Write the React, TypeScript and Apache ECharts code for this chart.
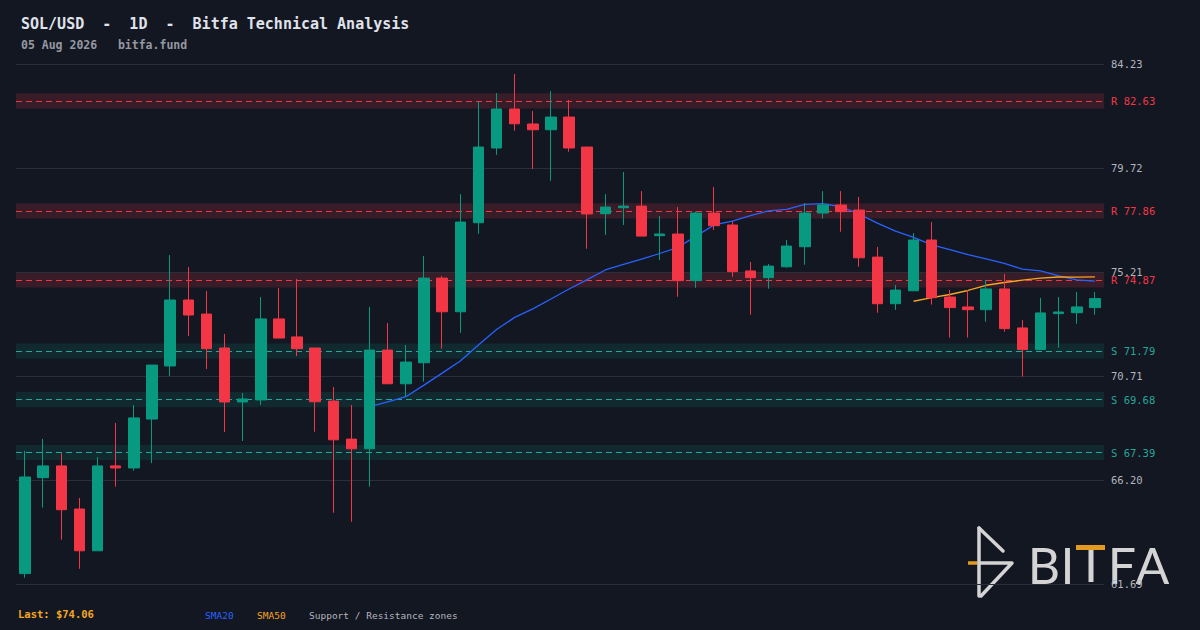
import React, { useEffect, useRef } from "react";
import * as echarts from "echarts";

// ---------- data ----------
const dates = [
  "Jun 07", "Jun 08", "Jun 09", "Jun 10", "Jun 11", "Jun 12", "Jun 13", "Jun 14", "Jun 15", "Jun 16",
  "Jun 17", "Jun 18", "Jun 19", "Jun 20", "Jun 21", "Jun 22", "Jun 23", "Jun 24", "Jun 25", "Jun 26",
  "Jun 27", "Jun 28", "Jun 29", "Jun 30", "Jul 01", "Jul 02", "Jul 03", "Jul 04", "Jul 05", "Jul 06",
  "Jul 07", "Jul 08", "Jul 09", "Jul 10", "Jul 11", "Jul 12", "Jul 13", "Jul 14", "Jul 15", "Jul 16",
  "Jul 17", "Jul 18", "Jul 19", "Jul 20", "Jul 21", "Jul 22", "Jul 23", "Jul 24", "Jul 25", "Jul 26",
  "Jul 27", "Jul 28", "Jul 29", "Jul 30", "Jul 31", "Aug 01", "Aug 02", "Aug 03", "Aug 04", "Aug 05",
];

const opens = [
  62.14, 66.30, 66.81, 64.94, 63.13, 66.81, 66.72, 68.84, 71.14, 74.00,
  73.39, 71.92, 69.58, 69.67, 73.18, 72.40, 71.92, 69.62, 67.97, 67.55,
  71.83, 70.37, 71.28, 74.95, 73.49, 77.35, 80.59, 82.28, 81.63, 81.38,
  81.93, 80.63, 77.74, 78.00, 78.07, 76.79, 76.86, 74.84, 77.77, 77.25,
  75.26, 74.97, 75.44, 76.31, 77.77, 78.12, 77.90, 75.86, 73.84, 74.40,
  76.60, 74.13, 73.70, 73.58, 74.48, 72.79, 71.85, 73.41, 73.45, 73.67,
];

const closes = [
  66.33, 66.81, 64.91, 63.13, 66.81, 66.72, 68.89, 71.18, 74.00, 73.35,
  71.89, 69.58, 69.71, 73.18, 72.35, 71.89, 69.59, 67.94, 67.55, 71.83,
  70.37, 71.31, 74.95, 73.49, 77.38, 80.63, 82.28, 81.64, 81.38, 81.93,
  80.59, 77.73, 78.03, 78.07, 76.77, 76.86, 74.84, 77.77, 77.22, 75.23,
  74.97, 75.47, 76.34, 77.77, 78.12, 77.83, 75.83, 73.84, 74.43, 76.60,
  74.10, 73.67, 73.58, 74.48, 72.76, 71.85, 73.44, 73.48, 73.70, 74.06,
];

const lows = [
  61.96, 65.00, 63.61, 62.35, 63.13, 65.91, 66.60, 66.93, 70.71, 72.44,
  71.01, 68.28, 67.89, 69.45, 72.35, 71.57, 68.29, 64.78, 64.39, 65.91,
  70.37, 69.81, 70.46, 71.89, 72.58, 76.87, 80.29, 81.34, 79.68, 79.17,
  80.43, 76.22, 76.82, 77.25, 76.77, 75.73, 74.14, 74.53, 77.03, 75.01,
  73.36, 74.49, 75.40, 75.53, 77.53, 76.96, 75.44, 73.45, 73.57, 74.40,
  73.80, 72.37, 72.37, 73.06, 72.63, 70.68, 71.85, 71.93, 72.97, 73.36,
];

const highs = [
  67.46, 67.98, 67.36, 65.42, 67.19, 68.67, 69.45, 71.18, 75.95, 75.43,
  74.39, 72.53, 69.97, 74.13, 74.52, 74.91, 71.92, 70.23, 69.45, 73.70,
  73.00, 72.05, 75.91, 75.04, 78.59, 82.58, 82.97, 83.80, 82.19, 83.06,
  82.67, 80.65, 78.59, 79.55, 78.72, 77.64, 78.03, 77.83, 78.90, 77.42,
  75.65, 75.56, 76.60, 78.20, 78.72, 78.72, 78.47, 76.30, 74.65, 76.90,
  77.38, 74.43, 74.43, 74.87, 75.13, 73.13, 74.09, 74.13, 74.35, 74.35,
];

const yTickLabels = ["61.69", "66.20", "70.71", "75.21", "79.72", "84.23"];

const zoneLevels = [82.63, 77.86, 74.87, 71.79, 69.68, 67.39];
const zoneKinds = ["R", "R", "R", "S", "S", "S"];

const lastPrice = 74.06;

// ---------- styling ----------
const BG = "#131722";
const UP = "#089981";
const DOWN = "#f23645";
const SUPPORT_LINE = "#26a69a";
const GRID = "#2a2e39";
const AXIS_TEXT = "#b2b5be";
const SMA20_COLOR = "#2962ff";
const SMA50_COLOR = "#f5a623";
const MONO = "'DejaVu Sans Mono', monospace";
const ZONE_HALF = 0.33;

function movingAverage(values: number[], period: number): (number | string)[] {
  const out: (number | string)[] = [];
  for (let i = 0; i < values.length; i++) {
    if (i < period - 1) {
      out.push("-");
      continue;
    }
    let s = 0;
    for (let j = i - period + 1; j <= i; j++) s += values[j];
    out.push(+(s / period).toFixed(4));
  }
  return out;
}

export default function App() {
  const ref = useRef<HTMLDivElement | null>(null);

  useEffect(() => {
    if (!ref.current) return;
    const chart = echarts.init(ref.current, null, { renderer: "svg" });

    const candleData = opens.map((o, i) => [o, closes[i], lows[i], highs[i]]);
    const sma20 = movingAverage(closes, 20);
    const sma50 = movingAverage(closes, 50);

    const tickValues = yTickLabels.map((t) => Number(t));

    const gridLines = yTickLabels.map((t) => ({
      yAxis: Number(t),
      lineStyle: { color: GRID, type: "solid", width: 1 },
      label: {
        show: true,
        position: "end",
        distance: 7,
        formatter: t,
        color: AXIS_TEXT,
        fontFamily: MONO,
        fontSize: 10.5,
      },
    }));

    const zoneLines = zoneLevels.map((v, i) => {
      const isR = zoneKinds[i] === "R";
      const c = isR ? DOWN : SUPPORT_LINE;
      return {
        yAxis: v,
        lineStyle: { color: c, type: [6, 4], width: 1 },
        label: {
          show: true,
          position: "end",
          distance: 7,
          formatter: `${zoneKinds[i]} ${v.toFixed(2)}`,
          color: c,
          fontFamily: MONO,
          fontSize: 10.5,
        },
      };
    });

    const zoneAreas = zoneLevels.map((v, i) => {
      const isR = zoneKinds[i] === "R";
      return [
        {
          yAxis: v - ZONE_HALF,
          itemStyle: {
            color: isR ? "rgba(242,54,69,0.17)" : "rgba(8,153,129,0.15)",
          },
        },
        { yAxis: v + ZONE_HALF },
      ];
    });

    const logoStroke = "#d4d4d4";
    const logoOrange = "#e39a1e";
    const logoFont = "Lato, 'Noto Sans', sans-serif";

    const option: any = {
      animation: false,
      backgroundColor: BG,
      grid: { left: 16, right: 96, top: 64, bottom: 46, containLabel: false },
      xAxis: {
        type: "category",
        data: dates,
        boundaryGap: true,
        show: false,
      },
      yAxis: {
        type: "value",
        position: "right",
        min: tickValues[0],
        max: tickValues[tickValues.length - 1],
        scale: true,
        axisLabel: { show: false },
        splitLine: { show: false },
        axisLine: { show: false },
        axisTick: { show: false },
      },
      series: [
        {
          type: "line",
          name: "zones",
          data: [],
          silent: true,
          z: 0,
          markArea: {
            silent: true,
            z: 0,
            data: zoneAreas,
          },
          markLine: {
            silent: true,
            z: 1,
            symbol: ["none", "none"],
            precision: 2,
            emphasis: { disabled: true },
            data: [...gridLines, ...zoneLines],
          },
        },
        {
          type: "line",
          name: "SMA20",
          data: sma20,
          z: 2,
          symbol: "none",
          silent: true,
          lineStyle: { color: SMA20_COLOR, width: 1.3 },
        },
        {
          type: "line",
          name: "SMA50",
          data: sma50,
          z: 2,
          symbol: "none",
          silent: true,
          lineStyle: { color: SMA50_COLOR, width: 1.3 },
        },
        {
          type: "candlestick",
          name: "SOL/USD",
          data: candleData,
          z: 3,
          barWidth: 11,
          silent: true,
          itemStyle: {
            color: UP,
            color0: DOWN,
            borderColor: UP,
            borderColor0: DOWN,
            borderWidth: 1,
          },
        },
      ],
      graphic: [
        {
          type: "text",
          x: 21,
          y: 24,
          silent: true,
          style: {
            text: "SOL/USD  -  1D  -  Bitfa Technical Analysis",
            fill: "#e0e3eb",
            font: `bold 15px ${MONO}`,
            textVerticalAlign: "middle",
          },
        },
        {
          type: "text",
          x: 21,
          y: 44.5,
          silent: true,
          style: {
            text: "05 Aug 2026   bitfa.fund",
            fill: "#9598a1",
            font: `bold 11.5px ${MONO}`,
            textVerticalAlign: "middle",
          },
        },
        {
          type: "text",
          x: 18,
          y: 614,
          silent: true,
          style: {
            text: `Last: $${lastPrice.toFixed(2)}`,
            fill: SMA50_COLOR,
            font: `bold 10.5px ${MONO}`,
            textVerticalAlign: "middle",
          },
        },
        {
          type: "text",
          x: 205,
          y: 615,
          silent: true,
          style: {
            text: "SMA20",
            fill: SMA20_COLOR,
            font: `9.5px ${MONO}`,
            textVerticalAlign: "middle",
          },
        },
        {
          type: "text",
          x: 257,
          y: 615,
          silent: true,
          style: {
            text: "SMA50",
            fill: SMA50_COLOR,
            font: `9.5px ${MONO}`,
            textVerticalAlign: "middle",
          },
        },
        {
          type: "text",
          x: 309,
          y: 615,
          silent: true,
          style: {
            text: "Support / Resistance zones",
            fill: AXIS_TEXT,
            font: `9.5px ${MONO}`,
            textVerticalAlign: "middle",
          },
        },
        // ---- logo ----
        {
          type: "group",
          silent: true,
          children: [
            {
              type: "polyline",
              shape: { points: [[979, 528], [979, 596]] },
              style: { stroke: logoStroke, lineWidth: 3.5, lineCap: "round", fill: null },
            },
            {
              type: "polyline",
              shape: { points: [[979, 528], [1003, 551]] },
              style: { stroke: logoStroke, lineWidth: 3.5, lineCap: "round", fill: null },
            },
            {
              type: "polyline",
              shape: { points: [[979, 563], [1012, 563], [981, 596]] },
              style: { stroke: logoStroke, lineWidth: 3.5, lineCap: "round", lineJoin: "round", fill: null },
            },
            {
              type: "polyline",
              shape: { points: [[968, 563], [977, 563]] },
              style: { stroke: logoOrange, lineWidth: 3.5, fill: null },
            },
            {
              type: "text",
              x: 1044,
              y: 565,
              style: { text: "B", fill: logoStroke, font: `50px ${logoFont}`, textAlign: "center", textVerticalAlign: "middle" },
            },
            {
              type: "text",
              x: 1067.5,
              y: 565,
              style: { text: "I", fill: logoStroke, font: `50px ${logoFont}`, textAlign: "center", textVerticalAlign: "middle" },
            },
            {
              type: "rect",
              shape: { x: 1088.5, y: 550, width: 5, height: 32 },
              style: { fill: logoStroke },
            },
            {
              type: "rect",
              shape: { x: 1076, y: 545, width: 29, height: 5 },
              style: { fill: logoOrange },
            },
            {
              type: "text",
              x: 1122,
              y: 565,
              style: { text: "F", fill: logoStroke, font: `50px ${logoFont}`, textAlign: "center", textVerticalAlign: "middle" },
            },
            {
              type: "text",
              x: 1152.5,
              y: 565,
              style: { text: "A", fill: logoStroke, font: `50px ${logoFont}`, textAlign: "center", textVerticalAlign: "middle" },
            },
          ],
        },
      ],
    };

    chart.setOption(option);
    return () => {
      chart.dispose();
    };
  }, []);

  return (
    <div
      ref={ref}
      style={{ position: "fixed", left: 0, top: 0, width: 1200, height: 630, background: BG }}
    />
  );
}
